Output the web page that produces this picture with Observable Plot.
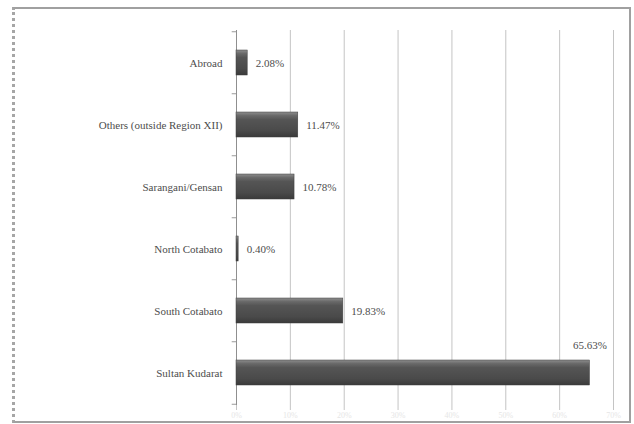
<!DOCTYPE html>
<html>
<head>
<meta charset="utf-8">
<script src="https://cdn.jsdelivr.net/npm/d3@7"></script>
<script src="https://cdn.jsdelivr.net/npm/@observablehq/plot@0.6"></script>
<style>
  body { margin: 0; background: #fff; }
  #wrap { position: relative; width: 634px; height: 424px; }
  #frame {
    position: absolute; left: 12px; top: 7px; width: 619px; height: 416px;
    box-sizing: border-box;
    border: 2px solid #a0a0a0; border-left: 3px dotted #a6a6a6;
  }
  #chart { position: absolute; left: 0; top: 0; }
</style>
</head>
<body>
<div id="wrap"><div id="frame"></div><div id="chart"></div></div>
<script>
// Place of origin, listed top to bottom
const origins = [
  "Abroad",
  "Others (outside Region XII)",
  "Sarangani/Gensan",
  "North Cotabato",
  "South Cotabato",
  "Sultan Kudarat"
];
// Share of respondents, in percent
const shares = [2.08, 11.47, 10.78, 0.40, 19.83, 65.63];
// Value axis ticks, in percent
const xTicks = [0, 10, 20, 30, 40, 50, 60, 70];

const rows = origins.map((origin, i) => ({origin, share: shares[i]}));
const fmt = d => d.toFixed(2) + "%";
const step = (405 - 30) / origins.length;

const chart = Plot.plot({
  width: 634,
  height: 424,
  marginLeft: 236,
  marginRight: 21,
  marginTop: 30,
  marginBottom: 19,
  style: {
    fontFamily: "'Liberation Serif', 'Times New Roman', serif",
    fontSize: "11px",
    color: "#4d4d4d",
    background: "transparent"
  },
  x: {domain: [0, 70], ticks: xTicks},
  y: {domain: origins, paddingInner: 0.6, paddingOuter: 0.3},
  marks: [
    Plot.gridX(xTicks, {stroke: "#c4c4c4", strokeOpacity: 1}),
    Plot.axisX({
      ticks: xTicks, tickSize: 5, tickPadding: 2,
      stroke: "#c4c4c4", fill: "#e6e6e6", fontSize: 8,
      tickFormat: d => d + "%", label: null
    }),
    Plot.ruleX([0], {stroke: "#8f8f8f"}),
    // small ticks at the category boundaries
    Plot.ruleY(origins, {y: d => d, x1: -0.8, x2: 0, dy: -step / 2, stroke: "#9a9a9a"}),
    Plot.ruleY(origins.slice(-1), {y: d => d, x1: -0.8, x2: 0, dy: step / 2, stroke: "#9a9a9a"}),
    Plot.axisY({tickSize: 0, tickPadding: 14, fill: "#4d4d4d", label: null}),
    Plot.barX(rows, {x: "share", y: "origin", fill: "url(#barShade)", stroke: "#3c3c3c", strokeWidth: 0.5}),
    Plot.text(rows.filter(d => d.share < 50), {
      x: "share", y: "origin", text: d => fmt(d.share),
      dx: 8, textAnchor: "start", fill: "#4d4d4d"
    }),
    Plot.text(rows.filter(d => d.share >= 50), {
      x: "share", y: "origin", text: d => fmt(d.share),
      dy: -28, textAnchor: "middle", fill: "#4d4d4d"
    })
  ]
});

// vertical shading for the bars
const defs = d3.select(chart).insert("defs", ":first-child");
const g = defs.append("linearGradient")
  .attr("id", "barShade").attr("x1", 0).attr("y1", 0).attr("x2", 0).attr("y2", 1);
[[0, "#8e8e8e"], [0.14, "#6a6a6a"], [0.3, "#555"], [0.75, "#4a4a4a"], [1, "#3a3a3a"]]
  .forEach(([o, c]) => g.append("stop").attr("offset", o).attr("stop-color", c));

document.getElementById("chart").appendChild(chart);
</script>
</body>
</html>
